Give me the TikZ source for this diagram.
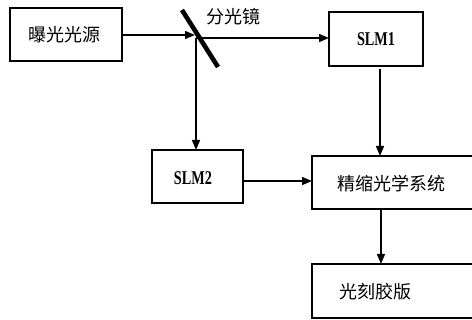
\documentclass[tikz,border=0pt]{standalone}
\usepackage{fontspec}
\setmainfont{Liberation Serif}
\newfontfamily\cjk{Noto Sans CJK SC}[Scale=1]
\usetikzlibrary{arrows.meta}
\tikzset{
  box/.style={draw=black, line width=1.5pt, rectangle, inner sep=0pt},
  lbl/.style={font=\cjk\fontsize{18}{20}\selectfont, inner sep=0pt},
  slm/.style={font=\fontsize{15}{17}\selectfont\bfseries, inner sep=0pt},
  arr/.style={line width=1.3pt, -{Triangle[length=10pt,width=8pt]}},
}
\newcommand{\slmtext}[1]{\scalebox{0.95}[1.3]{#1}}
\begin{document}
\begin{tikzpicture}[x=1pt,y=-1pt]
\useasboundingbox (0,0) rectangle (472,320);
% boxes
\draw[box] (10,8) rectangle (122,61);
\node[lbl] (src) at (64,35) {曝光光源};
\draw[box] (329,12) rectangle (423,66);
\node[slm] (slm1) at (376,39) {\slmtext{SLM1}};
\draw[box] (152,150) rectangle (243,203);
\node[slm] (slm2) at (193,178) {\slmtext{SLM2}};
\draw[box] (312,156) rectangle (478,209);
\node[lbl] (opt) at (391,184) {精缩光学系统};
\draw[box] (312,264) rectangle (478,318);
\node[lbl] (plate) at (375,292) {光刻胶版};
% named anchor points
\coordinate (srcR) at (122,35);
\coordinate (mc) at (195,35);
\coordinate (mo) at (196,38);
\coordinate (slm1L) at (329,38);
\coordinate (slm1B) at (380,69);
\coordinate (optT) at (380,156);
\coordinate (slm2T) at (196,150);
\coordinate (slm2R) at (243,181);
\coordinate (optL) at (312,181);
\coordinate (optB) at (381,209);
\coordinate (plateT) at (381,264);
% mirror
\coordinate (m1) at (182,10);
\coordinate (m2) at (218,67);
\draw[line width=4.6pt] (m1) -- (m2);
\node[lbl, anchor=west] (bs) at (206,17) {分光镜};
% connectors
\draw[arr] (srcR) -- (mc);
\draw[arr] (mo) -- (slm1L);
\draw[arr] (mo) -- (slm2T);
\draw[arr] (slm1B) -- (optT);
\draw[arr] (slm2R) -- (optL);
\draw[arr] (optB) -- (plateT);
\end{tikzpicture}
\end{document}
